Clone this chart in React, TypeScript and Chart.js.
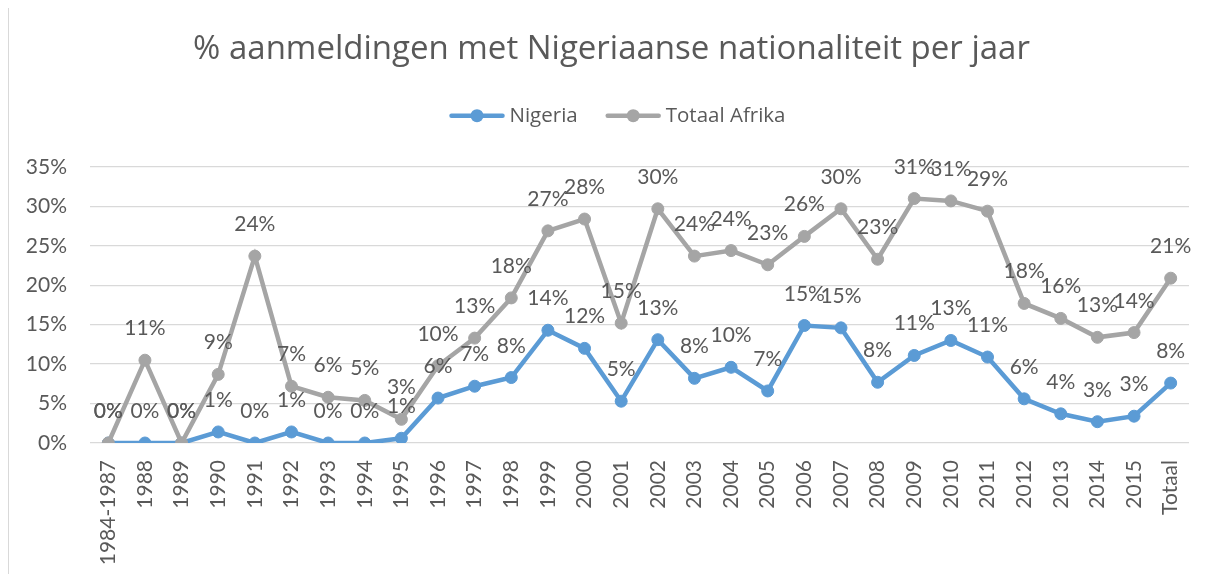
import React, { useEffect, useRef } from 'react';
import { Chart, registerables } from 'chart.js';

Chart.register(...registerables);

const titleText = '% aanmeldingen met Nigeriaanse nationaliteit per jaar';

const categories = [
  '1984-1987', '1988', '1989', '1990', '1991', '1992', '1993', '1994', '1995',
  '1996', '1997', '1998', '1999', '2000', '2001', '2002', '2003', '2004', '2005',
  '2006', '2007', '2008', '2009', '2010', '2011', '2012', '2013', '2014', '2015', 'Totaal',
];

const nigeria = [
  0, 0, 0, 1.4, 0, 1.4, 0, 0, 0.6,
  5.7, 7.2, 8.3, 14.3, 12.0, 5.3, 13.1, 8.2, 9.6, 6.6,
  14.9, 14.6, 7.7, 11.1, 13.0, 10.9, 5.6, 3.7, 2.7, 3.4, 7.6,
];

const totaalAfrika = [
  0, 10.5, 0, 8.7, 23.7, 7.2, 5.8, 5.4, 3.0,
  9.8, 13.3, 18.4, 26.9, 28.4, 15.2, 29.7, 23.7, 24.4, 22.6,
  26.2, 29.7, 23.3, 31.0, 30.7, 29.4, 17.7, 15.8, 13.4, 14.0, 20.9,
];

const yTicks = [0, 5, 10, 15, 20, 25, 30, 35];

const TEXT = '#595959';
const BLUE = '#5B9BD5';
const GRAY = '#A5A5A5';

const dataLabelPlugin = {
  id: 'dataLabels',
  afterDatasetsDraw(chart: any) {
    const ctx = chart.ctx;
    ctx.save();
    ctx.font = '21px Lato';
    ctx.fillStyle = TEXT;
    ctx.textAlign = 'center';
    ctx.textBaseline = 'alphabetic';
    chart.data.datasets.forEach((ds: any, i: number) => {
      const meta = chart.getDatasetMeta(i);
      meta.data.forEach((pt: any, j: number) => {
        const v = ds.data[j];
        ctx.fillText(Math.round(v) + '%', pt.x, pt.y - 25);
      });
    });
    ctx.restore();
  },
};

const legendPlugin = {
  id: 'lineLegend',
  afterDraw(chart: any) {
    const ctx = chart.ctx;
    ctx.save();
    ctx.font = '20.5px "Open Sans"';
    const lineLen = 55;
    const gap = 5;
    const itemGap = 28;
    const items = chart.data.datasets.map((d: any) => ({
      text: d.label,
      color: d.borderColor,
      w: ctx.measureText(d.label).width,
    }));
    const total =
      items.reduce((s: number, it: any) => s + lineLen + gap + it.w, 0) + itemGap * (items.length - 1);
    let x = chart.width / 2 + 6 - total / 2;
    const y = 107.7;
    items.forEach((it: any) => {
      ctx.strokeStyle = it.color;
      ctx.lineWidth = 4.5;
      ctx.lineCap = 'round';
      ctx.beginPath();
      ctx.moveTo(x + 2, y);
      ctx.lineTo(x + lineLen - 2, y);
      ctx.stroke();
      ctx.fillStyle = it.color;
      ctx.beginPath();
      ctx.arc(x + lineLen / 2, y, 6.5, 0, Math.PI * 2);
      ctx.fill();
      ctx.fillStyle = TEXT;
      ctx.textAlign = 'left';
      ctx.textBaseline = 'middle';
      ctx.fillText(it.text, x + lineLen + gap, y);
      x += lineLen + gap + it.w + itemGap;
    });
    ctx.restore();
  },
};

export default function App() {
  const ref = useRef<HTMLCanvasElement | null>(null);

  useEffect(() => {
    if (!ref.current) return;
    const chart = new Chart(ref.current, {
      type: 'line',
      data: {
        labels: categories,
        datasets: [
          {
            label: 'Nigeria',
            data: nigeria,
            borderColor: BLUE,
            backgroundColor: BLUE,
            pointBackgroundColor: BLUE,
            pointBorderColor: BLUE,
            borderWidth: 4.5,
            pointRadius: 6,
            pointBorderWidth: 1,
            tension: 0,
            order: 2,
          },
          {
            label: 'Totaal Afrika',
            data: totaalAfrika,
            borderColor: GRAY,
            backgroundColor: GRAY,
            pointBackgroundColor: GRAY,
            pointBorderColor: GRAY,
            borderWidth: 4.5,
            pointRadius: 6,
            pointBorderWidth: 1,
            tension: 0,
            order: 1,
          },
        ],
      },
      options: {
        responsive: false,
        animation: false,
        layout: { padding: { left: 0, right: 0, top: 0, bottom: 0 } },
        plugins: {
          legend: { display: false },
          tooltip: { enabled: false },
          title: {
            display: true,
            text: titleText,
            color: TEXT,
            font: { family: '"Open Sans"', size: 33, weight: 'normal', lineHeight: 1.2 },
            padding: { top: 22.2, bottom: 97.2 },
          },
        },
        scales: {
          x: {
            type: 'category',
            offset: true,
            grid: { display: false, drawTicks: false },
            border: { display: false },
            ticks: {
              color: TEXT,
              font: { family: 'Lato', size: 21 },
              minRotation: 90,
              maxRotation: 90,
              autoSkip: false,
              padding: 17,
            },
            afterFit: (scale: any) => {
              scale.height = 131;
            },
          },
          y: {
            min: 0,
            max: 35,
            afterBuildTicks: (scale: any) => {
              scale.ticks = yTicks.map((v) => ({ value: v }));
            },
            grid: { color: '#D9D9D9', lineWidth: 1.3, drawTicks: false },
            border: { display: false },
            ticks: {
              color: TEXT,
              font: { family: 'Lato', size: 21 },
              padding: 23,
              callback: (v: any) => v + '%',
            },
            afterFit: (scale: any) => {
              scale.width = 81;
            },
          },
          yRight: {
            position: 'right',
            min: 0,
            max: 35,
            grid: { display: false, drawTicks: false },
            border: { display: false },
            ticks: { display: false },
            afterFit: (scale: any) => {
              scale.width = 25;
            },
          },
        },
      },
      plugins: [dataLabelPlugin, legendPlugin],
    });
    return () => chart.destroy();
  }, []);

  return (
    <div
      style={{
        marginTop: -1,
        width: 1205,
        height: 566,
        borderLeft: '1px solid #D9D9D9',
        borderTop: '1px solid #D9D9D9',
      }}
    >
      <canvas ref={ref} width={1205} height={566} style={{ display: 'block', width: 1205, height: 566 }} />
    </div>
  );
}
